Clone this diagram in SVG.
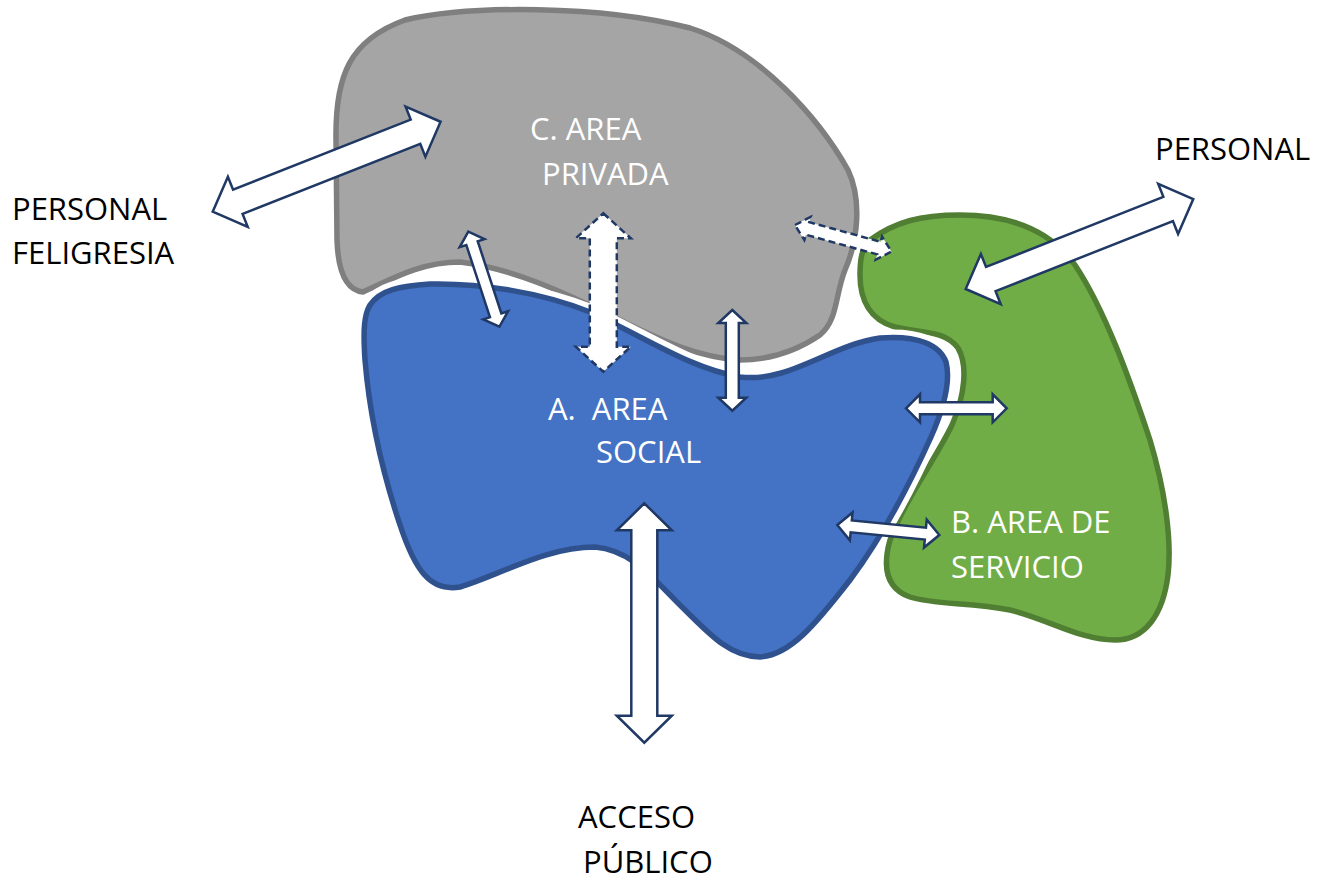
<svg xmlns="http://www.w3.org/2000/svg" width="1331" height="881" viewBox="0 0 1331 881">
<style>
.blob{stroke-width:5.5;stroke-linejoin:round}
.halo{fill:none;stroke:#ffffff;stroke-width:16;stroke-linejoin:round}
.arr{fill:#ffffff;stroke:#203864;stroke-width:2.5;stroke-linejoin:miter}
.dash{stroke-dasharray:7 4}
.lbl{font-family:"Open Sans","Noto Sans",sans-serif;font-size:31px;fill:#000000}
.wl{fill:#ffffff}
</style>
<rect width="1331" height="881" fill="#ffffff"/>
<g id="area-privada">
<path class="blob" fill="#a5a5a5" stroke="#7f7f7f" d="M 363,292 C 345,290 338,270 337,240 L 336,140 C 335,75 350,40 405,20 C 470,5 600,5 690,28 C 760,50 820,120 848,170 C 862,200 858,240 845,270 C 835,295 838,320 820,335 C 795,352 770,360 740,360 C 700,358 660,340 620,320 C 560,290 510,268 460,262 C 420,262 390,280 363,292 Z"/>
<text class="lbl wl" x="530" y="140">C. AREA</text>
<text class="lbl wl" x="542" y="185">PRIVADA</text>
</g>
<g id="area-servicio">
<path class="blob" fill="#70ad47" stroke="#507e32" d="M 870,240 C 895,222 920,215 960,215 C 1010,215 1050,230 1075,265 C 1105,310 1130,380 1150,440 C 1165,490 1172,540 1168,575 C 1163,615 1145,640 1115,640 C 1080,640 1050,620 1010,610 C 970,602 935,605 910,597 C 885,588 883,565 890,540 C 905,500 935,460 952,425 C 965,395 968,365 958,348 C 945,330 920,333 895,327 C 870,320 860,300 860,275 C 860,258 862,248 870,240 Z"/>
<text class="lbl wl" x="951" y="533">B. AREA DE</text>
<text class="lbl wl" x="951" y="578">SERVICIO</text>
</g>
<g id="area-social">
<path class="halo" d="M 370,305 C 380,290 400,286 430,284 C 480,283 540,292 590,312 C 650,340 690,368 740,377 C 790,383 830,345 880,338 C 918,335 940,345 946,362 C 951,382 943,410 931,437 C 908,488 880,540 850,580 C 815,625 790,655 760,657 C 730,657 710,635 680,605 C 650,575 630,550 595,547 C 545,547 500,575 460,587 C 430,592 415,570 400,525 C 385,480 370,420 365,360 C 363,330 364,315 370,305 Z"/>
<path class="blob" fill="#4472c4" stroke="#2f528f" d="M 370,305 C 380,290 400,286 430,284 C 480,283 540,292 590,312 C 650,340 690,368 740,377 C 790,383 830,345 880,338 C 918,335 940,345 946,362 C 951,382 943,410 931,437 C 908,488 880,540 850,580 C 815,625 790,655 760,657 C 730,657 710,635 680,605 C 650,575 630,550 595,547 C 545,547 500,575 460,587 C 430,592 415,570 400,525 C 385,480 370,420 365,360 C 363,330 364,315 370,305 Z"/>
<text class="lbl wl" x="548" y="420" xml:space="preserve">A.  AREA</text>
<text class="lbl wl" x="596" y="463">SOCIAL</text>
</g>
<g id="label-personal-feligresia">
<text class="lbl" x="12" y="220">PERSONAL</text>
<text class="lbl" x="12" y="264">FELIGRESIA</text>
</g>
<g id="label-personal">
<text class="lbl" x="1155" y="160">PERSONAL</text>
</g>
<g id="label-acceso">
<text class="lbl" x="578" y="828">ACCESO</text>
<text class="lbl" x="583" y="873">PÚBLICO</text>
</g>
<g id="connectors">
<polygon class="arr" transform="translate(212.7,211.7) rotate(-21.54)" points="0,0 27,-27 27,-13 218,-13 218,-27 245,0 218,27 218,13 27,13 27,27"/>
<polygon class="arr" transform="translate(965.7,289) rotate(-21.57)" points="0,0 27,-27 27,-13 217.7,-13 217.7,-27 244.7,0 217.7,27 217.7,13 27,13 27,27"/>
<polygon class="arr dash" transform="translate(795,225) rotate(15.4)" points="0,0 13,-12 13,-6.5 87,-6.5 87,-12 100,0 87,12 87,6.5 13,6.5 13,12"/>
<polygon class="arr" transform="translate(468.3,231.7) rotate(71.9)" points="0,0 12,-13 12,-6 88,-6 88,-13 100,0 88,13 88,6 12,6 12,13"/>
<polygon class="arr dash" transform="translate(603.3,213.3) rotate(90)" points="0,0 25,-27.5 25,-13.5 133.4,-13.5 133.4,-27.5 158.4,0 133.4,27.5 133.4,13.5 25,13.5 25,27.5"/>
<polygon class="arr" transform="translate(732.3,310) rotate(90)" points="0,0 13,-14 13,-6.5 87.7,-6.5 87.7,-14 100.7,0 87.7,14 87.7,6.5 13,6.5 13,14"/>
<polygon class="arr" transform="translate(906,408.3)" points="0,0 14,-14 14,-6 86.7,-6 86.7,-14 100.7,0 86.7,14 86.7,6 14,6 14,14"/>
<polygon class="arr" transform="translate(837.3,525) rotate(5.6)" points="0,0 14,-14 14,-6 88.5,-6 88.5,-14 102.5,0 88.5,14 88.5,6 14,6 14,14"/>
<polygon class="arr" transform="translate(644.3,503.3) rotate(90)" points="0,0 27,-27.5 27,-13 212.4,-13 212.4,-27.5 239.4,0 212.4,27.5 212.4,13 27,13 27,27.5"/>
</g>
</svg>
